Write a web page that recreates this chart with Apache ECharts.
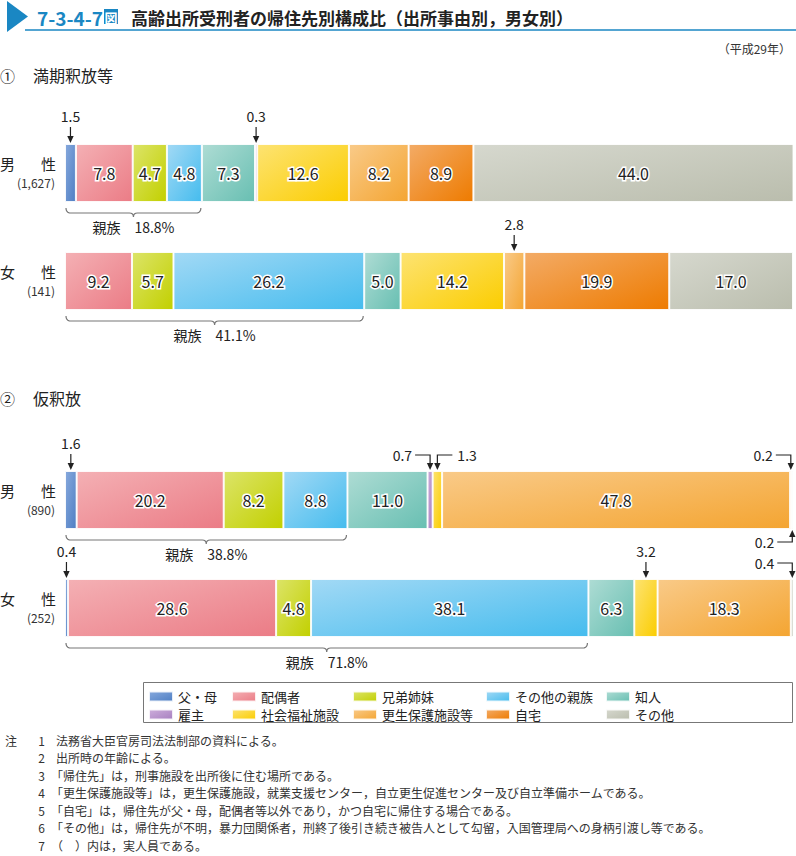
<!DOCTYPE html>
<html><head><meta charset="utf-8">
<script src="https://cdn.jsdelivr.net/npm/echarts@6/dist/echarts.min.js"></script>
<style>html,body{margin:0;padding:0;background:#fff}#c{width:796px;height:856px}</style>
</head><body><div id="c"></div>
<script>
// ---- data ----
const categories = ['父・母','配偶者','兄弟姉妹','その他の親族','知人','雇主','社会福祉施設','更生保護施設等','自宅','その他'];
const barSex = [['男','性'],['女','性'],['男','性'],['女','性']];
const barCounts = ['(1,627)','(141)','(890)','(252)'];
const mankiMale = [1.5,7.8,4.7,4.8,7.3,0.3,12.6,8.2,8.9,44.0];
const mankiFemale = [0,9.2,5.7,26.2,5.0,0,14.2,2.8,19.9,17.0];
const karishakuMale = [1.6,20.2,8.2,8.8,11.0,0.7,1.3,47.8,0.2,0.2];
const karishakuFemale = [0.4,28.6,4.8,38.1,6.3,0,3.2,18.3,0,0.4];
const kinTotals = ['18.8','41.1','38.8','71.8'];
const sectionTitles = ['満期釈放等','仮釈放'];
// callouts: [category index, style]
const callouts = [
  [[0,'down'],[5,'down']],
  [[7,'down']],
  [[0,'down'],[5,'elbowL'],[6,'elbowR'],[8,'elbowL'],[9,'elbowLUp']],
  [[0,'down'],[6,'down'],[9,'elbowL']]
];
const notes = [
  ['注','1','法務省大臣官房司法法制部の資料による。'],
  ['','2','出所時の年齢による。'],
  ['','3','「帰住先」は，刑事施設を出所後に住む場所である。'],
  ['','4','「更生保護施設等」は，更生保護施設，就業支援センター，自立更生促進センター及び自立準備ホームである。'],
  ['','5','「自宅」は，帰住先が父・母，配偶者等以外であり，かつ自宅に帰住する場合である。'],
  ['','6','「その他」は，帰住先が不明，暴力団関係者，刑終了後引き続き被告人として勾留，入国管理局への身柄引渡し等である。'],
  ['','7','（　）内は，実人員である。']
];
const allBars = [mankiMale, mankiFemale, karishakuMale, karishakuFemale];

// ---- styles ----
const FONT = '"Noto Sans CJK JP", "Noto Sans", sans-serif';
const colors = [
  ['#86a8dc','#4f7fc4'],
  ['#f4b0b4','#eb7c86'],
  ['#dce468','#c2d000'],
  ['#a2d9f5','#45bcee'],
  ['#aedcd4','#68bfb2'],
  ['#cdaedb','#a77fc0'],
  ['#fde372','#fbcd00'],
  ['#f9ca88','#f4a532'],
  ['#f3ab66','#ee7b00'],
  ['#d6d8ce','#babdad']
];
const gridTops = [144, 252, 471, 579];
const barH = 58;

const chart = echarts.init(document.getElementById('c'), null, {renderer: 'svg'});

function grad(i){
  return new echarts.graphic.LinearGradient(0,0,1,1,[{offset:0,color:colors[i][0]},{offset:1,color:colors[i][1]}]);
}

const grids = [], xAxes = [], yAxes = [], series = [];
allBars.forEach((vals, b) => {
  grids.push({left: 65, right: 3, top: gridTops[b], height: barH});
  xAxes.push({type:'value', gridIndex:b, min:0, max:100, show:false});
  yAxes.push({type:'category', gridIndex:b, data:['x'], show:false});
  vals.forEach((v, c) => {
    series.push({
      type:'bar', name: categories[c], xAxisIndex:b, yAxisIndex:b, stack:'s'+b,
      barWidth:'100%', data:[v],
      itemStyle:{color: grad(c), borderColor:'rgba(255,255,255,0.85)', borderWidth: v > 0 ? 1 : 0},
      label:{show: v >= 4, position:'inside', formatter: p => Number(p.value).toFixed(1),
        color:'#222', fontSize:16, fontFamily: FONT, textBorderColor:'#fff', textBorderWidth:3},
      emphasis:{disabled:true}
    });
  });
});

const legendCols = [148, 231, 352, 485, 605];
const legendRows = [690, 708];
const legends = categories.map((name, i) => ({
  data:[name], left: legendCols[i % 5], top: legendRows[Math.floor(i / 5)],
  padding:0, itemWidth:24, itemHeight:10, icon:'rect', selectedMode:false,
  textStyle:{fontSize:13, color:'#222', fontFamily: FONT}
}));

chart.setOption({
  animation:false,
  grid: grids, xAxis: xAxes, yAxis: yAxes, series: series, legend: legends
});

// ---- graphics (positions from the library's scales) ----
const g = [];
const txt = (x, y, s, o) => g.push({type:'text', x, y, style: Object.assign({text:s, fontFamily:FONT, fontSize:14, fill:'#222', textAlign:'left', textVerticalAlign:'middle'}, o || {})});
const line = (x1,y1,x2,y2,o) => g.push({type:'line', shape:{x1,y1,x2,y2}, style: Object.assign({stroke:'#222', lineWidth:1.2}, o||{})});
const arrowHead = (x, y, dir) => {
  const d = dir === 'down' ? -1 : 1;
  g.push({type:'polygon', shape:{points:[[x-3.2, y + d*7],[x+3.2, y + d*7],[x, y]]}, style:{fill:'#222'}});
};
// quadratic curve points
function quad(p0, p1, p2, n) {
  const pts = [];
  for (let i = 1; i <= n; i++) {
    const t = i / n, u = 1 - t;
    pts.push([u*u*p0[0] + 2*u*t*p1[0] + t*t*p2[0], u*u*p0[1] + 2*u*t*p1[1] + t*t*p2[1]]);
  }
  return pts;
}

// title
g.push({type:'polygon', shape:{points:[[7,1],[7,32],[28,16.5]]}, style:{fill:'#1a87c3'}});
g.push({type:'line', shape:{x1:25, y1:30, x2:796, y2:30}, style:{stroke:'#1a87c3', lineWidth:1.5}});
txt(37, 17, '7-3-4-7', {fill:'#1a87c3', fontSize:19, fontWeight:'bold'});
g.push({type:'rect', shape:{x:104, y:9, width:14, height:15}, style:{fill:'#1a87c3'}});
txt(111, 17, '図', {fill:'#fff', fontSize:13, fontWeight:'bold', textAlign:'center'});
txt(131, 17, '高齢出所受刑者の帰住先別構成比（出所事由別，男女別）', {fontSize:17, fontWeight:'bold', fill:'#222'});
txt(791, 48, '（平成29年）', {fontSize:12, textAlign:'right', fill:'#333'});
txt(0, 75, '①', {fontSize:15});
txt(33, 75, sectionTitles[0], {fontSize:16});
txt(0, 398, '②', {fontSize:15});
txt(33, 398, sectionTitles[1], {fontSize:16});

const px = (b, v) => chart.convertToPixel({xAxisIndex: b}, v);

allBars.forEach((vals, b) => {
  const top = gridTops[b], bottom = top + barH;
  // left labels
  txt(0, top + 19, barSex[b][0], {fontSize:15});
  txt(56, top + 19, barSex[b][1], {fontSize:15, textAlign:'right'});
  txt(55, top + 38, barCounts[b], {fontSize:12, textAlign:'right', fill:'#333'});
  // cumulative
  const starts = [];
  let s = 0;
  vals.forEach(v => { starts.push(s); s += v; });
  // brace
  const kin = vals[0] + vals[1] + vals[2] + vals[3];
  const x0 = px(b, 0) + 1, x1 = px(b, kin) - 1, xm = (x0 + x1) / 2, y0 = bottom + 6;
  const pts = [[x0, y0]]
    .concat(quad([x0, y0], [x0, y0+5], [x0+5, y0+5], 5))
    .concat([[xm-4, y0+5]])
    .concat(quad([xm-4, y0+5], [xm, y0+5], [xm, y0+9], 4))
    .concat(quad([xm, y0+9], [xm, y0+5], [xm+4, y0+5], 4))
    .concat([[x1-5, y0+5]])
    .concat(quad([x1-5, y0+5], [x1, y0+5], [x1, y0], 5));
  g.push({type:'polyline', shape:{points: pts}, style:{stroke:'#777', lineWidth:1.2, fill:null}});
  txt(xm, bottom + 25, '親族　' + kinTotals[b] + '%', {textAlign:'center', fontSize:14});
  // callouts
  callouts[b].forEach(([c, st]) => {
    const cx = px(b, starts[c] + vals[c] / 2);
    const label = vals[c].toFixed(1);
    const ls = {lineHeight:14};
    if (st === 'down') {
      txt(cx, top - 28, label, Object.assign({textAlign:'center'}, ls));
      line(cx, top - 17, cx, top - 4);
      arrowHead(cx, top - 1, 'down');
    } else if (st === 'elbowL') {
      const y = top - 16;
      txt(cx - 18, y, label, Object.assign({textAlign:'right'}, ls));
      g.push({type:'polyline', shape:{points:[[cx-15, y],[cx, y],[cx, top-4]]}, style:{stroke:'#222', lineWidth:1.2, fill:null}});
      arrowHead(cx, top - 1, 'down');
    } else if (st === 'elbowR') {
      const y = top - 16;
      txt(cx + 20, y, label, Object.assign({textAlign:'left'}, ls));
      g.push({type:'polyline', shape:{points:[[cx+15, y],[cx, y],[cx, top-4]]}, style:{stroke:'#222', lineWidth:1.2, fill:null}});
      arrowHead(cx, top - 1, 'down');
    } else if (st === 'elbowLUp') {
      const y = bottom + 13;
      txt(cx - 18, y, label, Object.assign({textAlign:'right'}, ls));
      g.push({type:'polyline', shape:{points:[[cx-15, y],[cx, y],[cx, bottom+4]]}, style:{stroke:'#222', lineWidth:1.2, fill:null}});
      arrowHead(cx, bottom + 1, 'up');
    }
  });
});

// legend box
g.push({type:'rect', shape:{x:143.5, y:682.5, width:649, height:40}, style:{stroke:'#777', lineWidth:1, fill:null}, z:-1});

// notes
notes.forEach((n, i) => {
  const y = 740 + i * 17.5;
  if (n[0]) txt(5, y, n[0], {fontSize:12, fill:'#333', lineHeight:14});
  txt(45, y, n[1], {fontSize:12, fill:'#333', textAlign:'right', lineHeight:14});
  txt(n[2].startsWith('「') || n[2].startsWith('（') ? 51 : 56, y, n[2], {fontSize:12, fill:'#333', lineHeight:14});
});

chart.setOption({graphic: g});
</script></body></html>
